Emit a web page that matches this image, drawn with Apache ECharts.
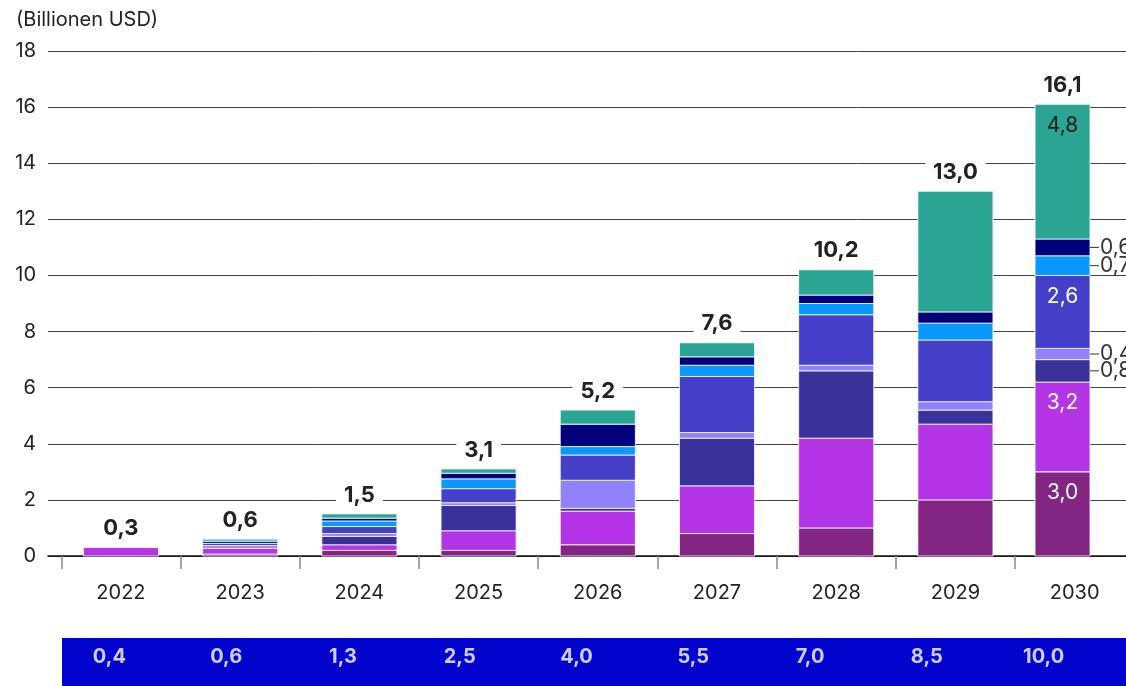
<!DOCTYPE html>
<html>
<head>
<meta charset="utf-8">
<title>Billionen USD</title>
<script src="https://cdn.jsdelivr.net/npm/echarts@6/dist/echarts.min.js"></script>
<style>
  html, body { margin: 0; padding: 0; background: #ffffff; }
  #chart { width: 1126px; height: 686px; }
</style>
</head>
<body>
<div id="chart"></div>
<script>
// Years on the x axis
const years = ['2022', '2023', '2024', '2025', '2026', '2027', '2028', '2029', '2030'];

// Stacked layers, bottom to top (Billionen USD)
const layerA = [0, 0.07, 0.2, 0.2, 0.4, 0.8, 1.0, 2.0, 3.0];
const layerB = [0.3, 0.2, 0.2, 0.7, 1.2, 1.7, 3.2, 2.7, 3.2];
const layerC = [0, 0, 0.3, 0.9, 0.1, 1.7, 2.4, 0.5, 0.8];
const layerD = [0, 0.1, 0.1, 0.1, 1.0, 0.2, 0.2, 0.3, 0.4];
const layerE = [0, 0.08, 0.25, 0.5, 0.9, 2.0, 1.8, 2.2, 2.6];
const layerF = [0, 0, 0.2, 0.35, 0.3, 0.4, 0.4, 0.6, 0.7];
const layerG = [0, 0.08, 0.1, 0.2, 0.8, 0.3, 0.3, 0.4, 0.6];
const layerH = [0, 0.07, 0.15, 0.15, 0.5, 0.5, 0.9, 4.3, 4.8];

// Totals printed above each stack
const totals = [0.3, 0.6, 1.5, 3.1, 5.2, 7.6, 10.2, 13.0, 16.1];

// Values shown in the blue band under the chart
const bandValues = [0.4, 0.6, 1.3, 2.5, 4.0, 5.5, 7.0, 8.5, 10.0];

// Y axis ticks
const yTicks = [0, 2, 4, 6, 8, 10, 12, 14, 16, 18];

const layers = [layerA, layerB, layerC, layerD, layerE, layerF, layerG, layerH];
const colors = ['#832582', '#b335e5', '#38329a', '#9182fc', '#4640c8', '#0799fd', '#00007a', '#2ba593'];

const FONT = 'Inter, Roboto, "Noto Sans", sans-serif';
const lastIdx = years.length - 1;
// horizontal extent of a bar, in category units relative to its centre
const barSpan = [-0.315, 0.315];
const lastSpan = [-0.332, 0.129];

const fmt = v => (Math.round(v * 10) / 10).toFixed(1).replace('.', ',');

// cumulative bases for each layer
const stacked = [];
const running = years.map(() => 0);
layers.forEach(layer => {
  stacked.push(layer.map((v, i) => {
    const lo = running[i];
    running[i] = lo + v;
    return [i, lo, running[i], v];
  }));
});

function spanOf(i) { return i === lastIdx ? lastSpan : barSpan; }

function segmentRenderer(k) {
  return function (params, api) {
    const i = api.value(0), lo = api.value(1), hi = api.value(2), v = api.value(3);
    if (!(v > 0)) return null;
    const unit = api.size([1, 0])[0];
    const span = spanOf(i);
    const pLo = api.coord([i, lo]);
    const pHi = api.coord([i, hi]);
    const x0 = pLo[0] + span[0] * unit;
    const w = (span[1] - span[0]) * unit;
    const children = [{
      type: 'rect',
      shape: { x: x0, y: pHi[1], width: w, height: pLo[1] - pHi[1] },
      style: { fill: colors[k], stroke: '#ffffff', lineWidth: 0.8 }
    }];
    if (i === lastIdx) {
      if (v >= 2) {
        children.push({
          type: 'text',
          style: {
            text: fmt(v), x: x0 + w / 2, y: pHi[1] + 21,
            align: 'center', verticalAlign: 'middle',
            textAlign: 'center', textVerticalAlign: 'middle',
            fill: k === layers.length - 1 ? '#1e1e1e' : '#ffffff',
            font: '21px ' + FONT
          }
        });
      } else {
        const cy = (pLo[1] + pHi[1]) / 2;
        children.push({
          type: 'line',
          shape: { x1: x0 + w, y1: cy, x2: x0 + w + 9, y2: cy },
          style: { stroke: '#333333', lineWidth: 1 }
        });
        children.push({
          type: 'text',
          style: {
            text: fmt(v), x: x0 + w + 10, y: cy,
            align: 'left', verticalAlign: 'middle',
            textAlign: 'left', textVerticalAlign: 'middle',
            fill: '#333333', font: '21px ' + FONT
          }
        });
      }
    }
    return { type: 'group', children };
  };
}

const series = layers.map((layer, k) => ({
  type: 'custom',
  name: 'L' + k,
  xAxisIndex: 0, yAxisIndex: 0,
  renderItem: segmentRenderer(k),
  encode: { x: 0, y: [1, 2] },
  data: stacked[k],
  z: 3
}));

// totals above the stacks
series.push({
  type: 'custom',
  name: 'total',
  xAxisIndex: 0, yAxisIndex: 0,
  encode: { x: 0, y: 1 },
  data: totals.map((t, i) => [i, t]),
  z: 4,
  renderItem: function (params, api) {
    const i = api.value(0), t = api.value(1);
    const unit = api.size([1, 0])[0];
    const span = spanOf(i);
    const p = api.coord([i, t]);
    const cx = p[0] + (span[0] + span[1]) / 2 * unit;
    return {
      type: 'text',
      style: {
        text: fmt(t), x: cx, y: p[1] - 19,
        align: 'center', verticalAlign: 'middle',
        textAlign: 'center', textVerticalAlign: 'middle',
        fill: '#222222', font: 'bold 22px ' + FONT,
        backgroundColor: '#ffffff', padding: [0, 8]
      }
    };
  }
});

// values in the blue band
series.push({
  type: 'scatter',
  xAxisIndex: 1, yAxisIndex: 1,
  symbolSize: 1,
  itemStyle: { color: 'rgba(0,0,0,0)' },
  silent: true,
  z: 5,
  data: bandValues.map((v, i) => [i, 0.5, v]),
  label: {
    show: true, position: 'inside', offset: [0, -5],
    formatter: p => fmt(p.value[2]),
    color: '#ffffff', fontWeight: 'bold', fontSize: 20, fontFamily: FONT
  }
});

const option = {
  animation: false,
  backgroundColor: '#ffffff',
  title: {
    text: '(Billionen USD)', left: 11, top: 5,
    textStyle: { fontSize: 20, fontWeight: 'normal', color: '#222222', fontFamily: FONT }
  },
  graphic: [{
    type: 'rect', left: 62, top: 638, z: 0,
    shape: { width: 1064, height: 48 },
    style: { fill: '#0303ce' }
  }],
  grid: [
    { left: 48, right: 0, top: 51, bottom: 130 },
    { left: 51, right: 24, top: 638, height: 48 }
  ],
  xAxis: [
    {
      type: 'value', gridIndex: 0,
      min: -0.612, max: 8.431,
      splitLine: { show: false },
      axisLine: { show: true, lineStyle: { color: '#111111', width: 1.5 } },
      axisTick: {
        show: true, length: 13,
        customValues: years.slice(0, -1).map((y, i) => i + 0.5).concat([-0.5]),
        lineStyle: { color: '#888888', width: 1.5 }
      },
      axisLabel: {
        show: true, margin: 27,
        customValues: years.map((y, i) => i),
        formatter: v => years[Math.round(v)] || '',
        color: '#222222', fontSize: 20, fontFamily: FONT
      }
    },
    {
      type: 'category', gridIndex: 1, data: years,
      show: false
    }
  ],
  yAxis: [
    {
      type: 'value', gridIndex: 0,
      min: yTicks[0], max: yTicks[yTicks.length - 1], interval: 2,
      axisLine: { show: false }, axisTick: { show: false },
      axisLabel: { margin: 12, color: '#222222', fontSize: 20, fontFamily: FONT },
      splitLine: { show: true, lineStyle: { color: '#444444', width: 1 } }
    },
    { type: 'value', gridIndex: 1, min: 0, max: 1, show: false }
  ],
  series
};

const chart = echarts.init(document.getElementById('chart'), null, { renderer: 'canvas' });
chart.setOption(option);
</script>
</body>
</html>
